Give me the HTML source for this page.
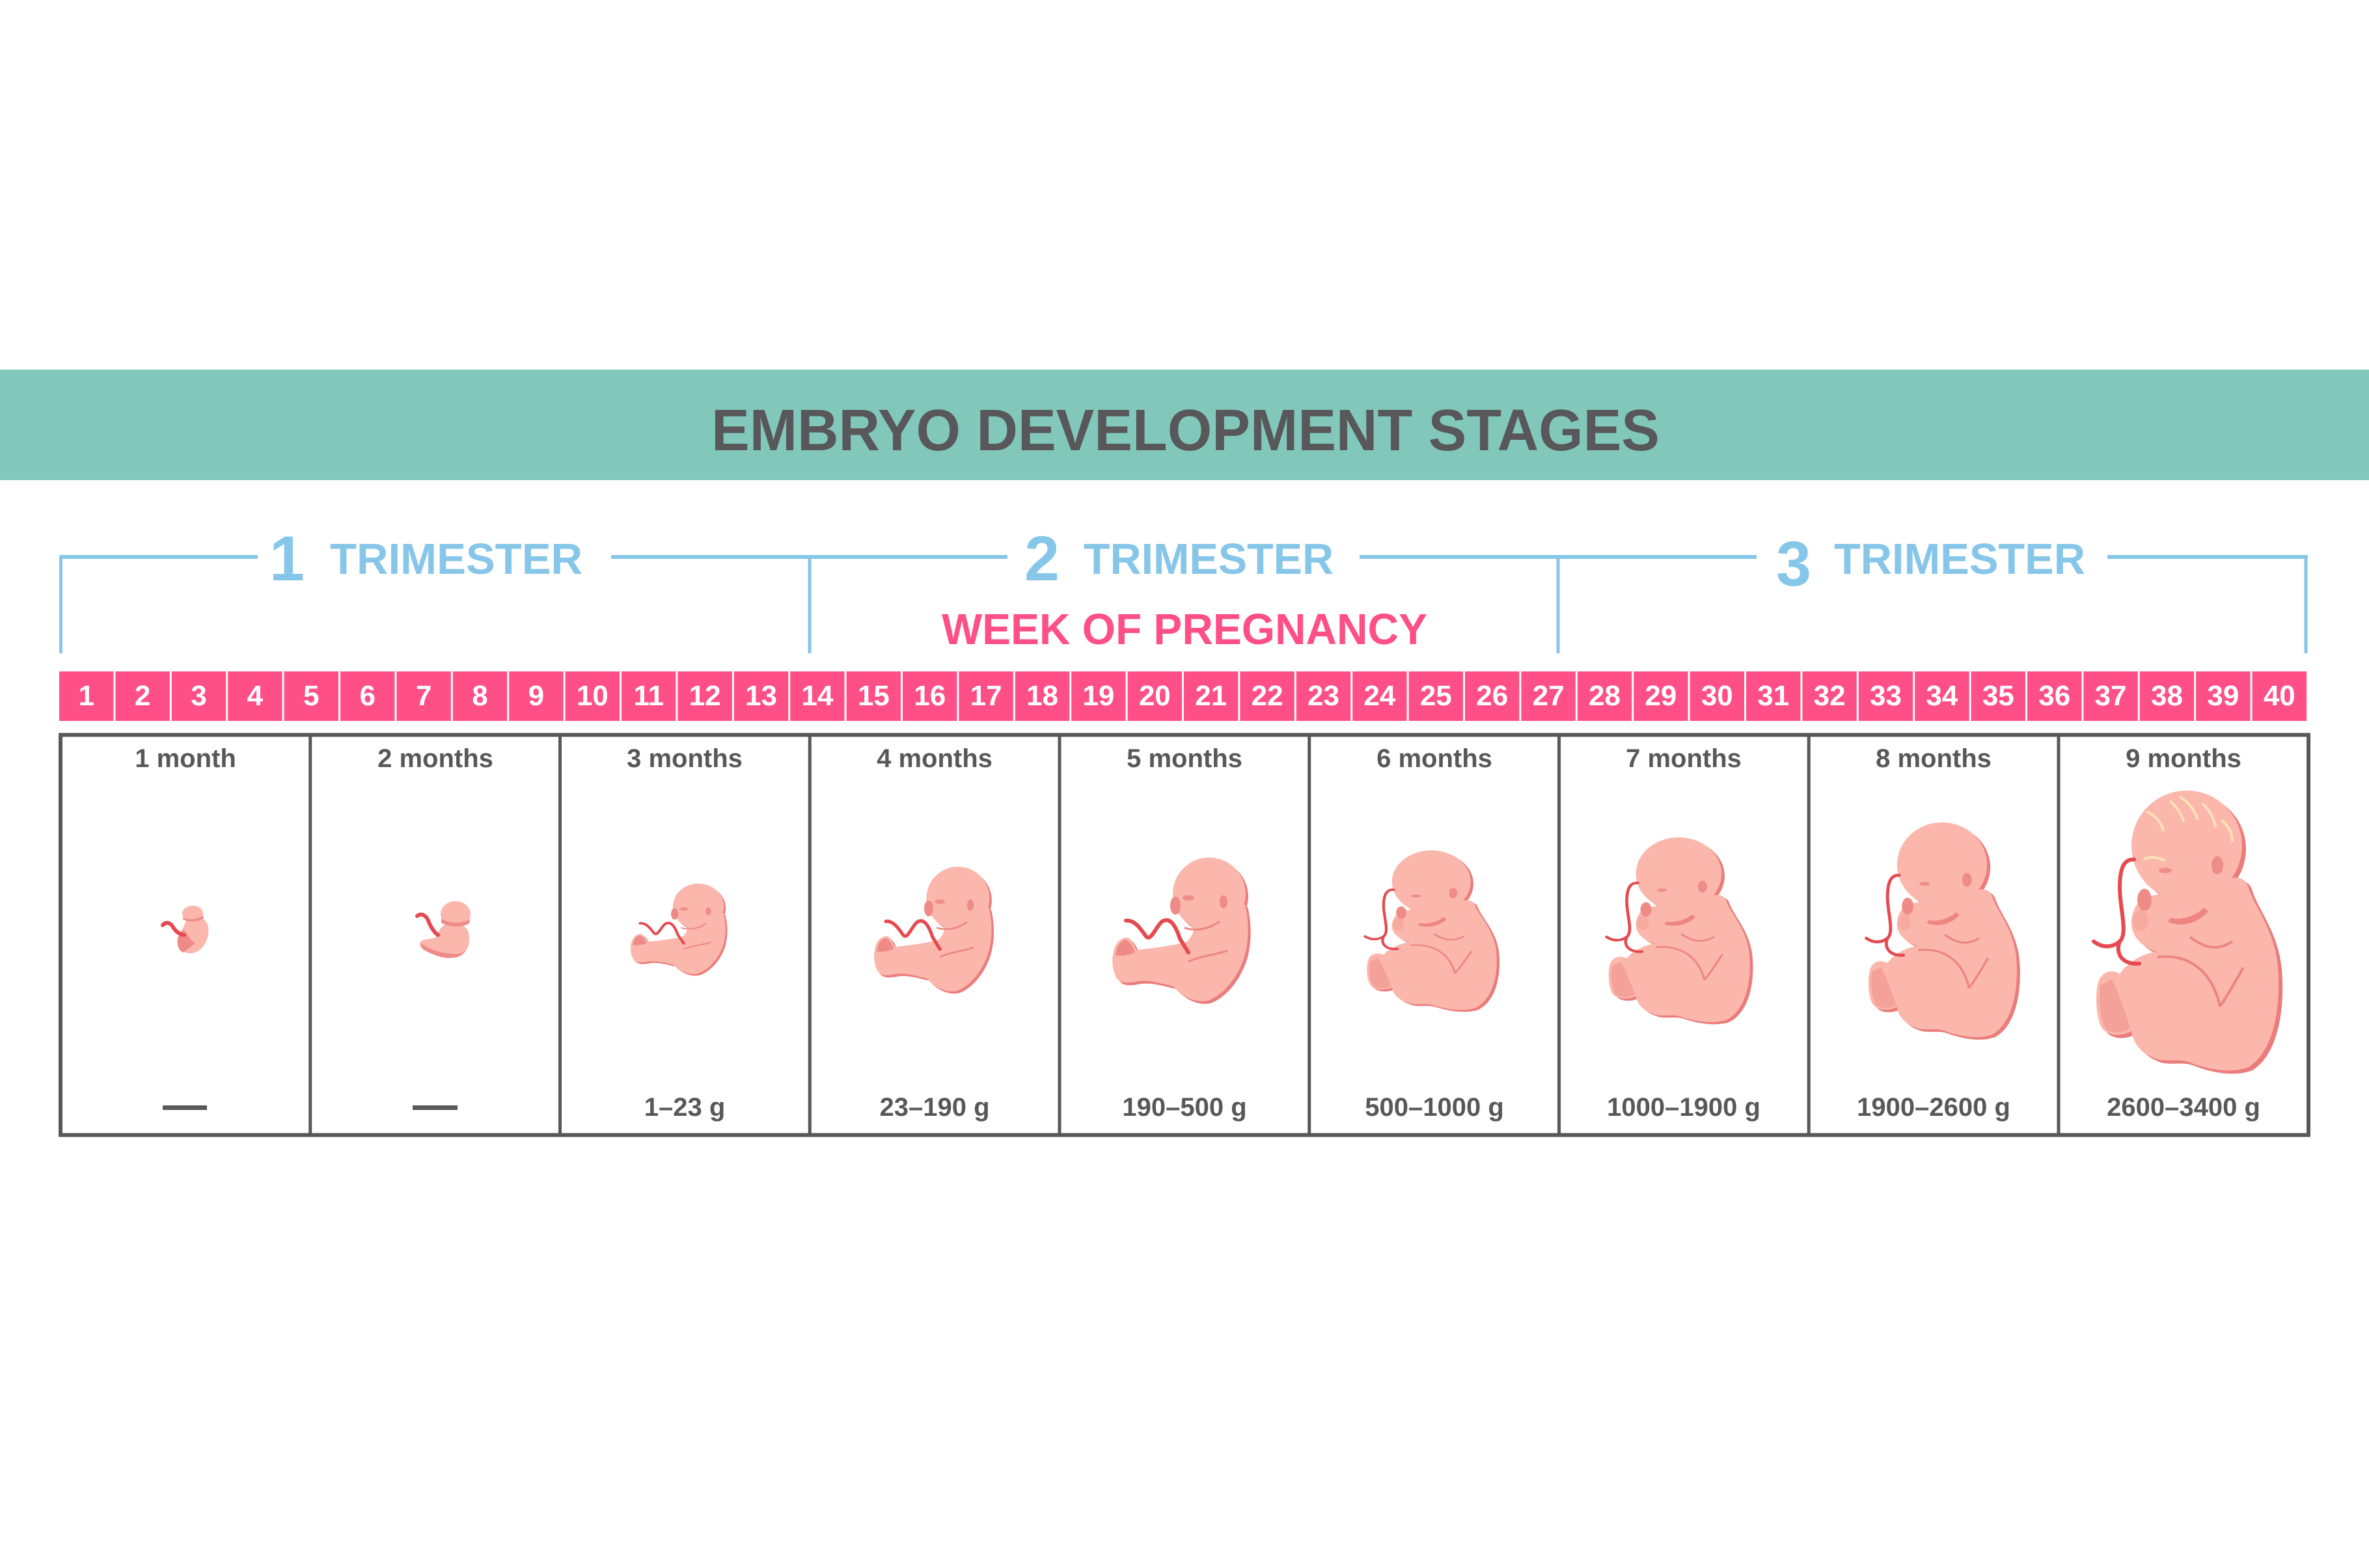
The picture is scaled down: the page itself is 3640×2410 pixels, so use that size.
<!DOCTYPE html>
<html>
<head>
<meta charset="utf-8">
<style>
html,body{margin:0;padding:0;background:#fff;}
svg{display:block;}
text{font-family:"Liberation Sans",sans-serif;}
</style>
</head>
<body>
<svg width="3640" height="2410" viewBox="0 0 3640 2410" xmlns="http://www.w3.org/2000/svg">
<defs>
  <!-- late-stage fetus template (285 x 430) -->
  <g id="tA">
    <g fill="#EB7C7B" transform="translate(6,5)">
      <ellipse cx="145" cy="85" rx="85" ry="85"/>
      <path d="M150,150 C200,140 232,120 240,150 C250,180 280,215 285,270 C290,330 280,400 240,425 C215,435 180,430 150,418 C130,410 110,420 92,410 C72,402 62,385 60,370 C40,380 18,376 12,360 C4,340 4,300 12,288 C20,276 32,276 42,282 C55,262 80,250 98,248 C75,240 58,222 60,200 C62,180 72,165 90,162 Z"/>
    </g>
    <g fill="#FBB7AB">
      <ellipse cx="145" cy="85" rx="85" ry="85"/>
      <path d="M150,150 C200,140 232,120 240,150 C250,180 280,215 285,270 C290,330 280,400 240,425 C215,435 180,430 150,418 C130,410 110,420 92,410 C72,402 62,385 60,370 C40,380 18,376 12,360 C4,340 4,300 12,288 C20,276 32,276 42,282 C55,262 80,250 98,248 C75,240 58,222 60,200 C62,180 72,165 90,162 Z"/>
    </g>
    <!-- far leg shade -->
    <path d="M12,300 C10,330 12,355 22,368 C35,375 50,372 58,365 C50,340 40,310 30,290 Z" fill="#F4A199"/>
    <!-- chin / neck shadow -->
    <path d="M120,196 C140,200 158,192 172,180 L178,186 C160,206 135,210 116,202 Z" fill="#EE8580"/>
    <!-- fist -->
    <ellipse cx="80" cy="168" rx="11" ry="17" fill="#EE8B86"/>
    <ellipse cx="74" cy="200" rx="12" ry="16" fill="#F7AAA0"/>
    <!-- ear -->
    <ellipse cx="192" cy="115" rx="9" ry="14" fill="#EE8C87"/>
    <!-- eye -->
    <ellipse cx="112" cy="123" rx="10" ry="4" fill="#EE8E89"/>
    <!-- creases -->
    <path d="M100,256 C150,250 185,280 196,332" fill="none" stroke="#EC8580" stroke-width="4"/>
    <path d="M150,225 C175,245 195,245 215,232" fill="none" stroke="#EC8580" stroke-width="4"/>
    <path d="M196,332 C210,312 220,292 232,272" fill="none" stroke="#EC8580" stroke-width="4"/>
    <!-- cord -->
    <path d="M2,232 C15,242 30,242 42,232 C55,220 42,180 42,150 C42,120 48,105 64,106" fill="none" stroke="#E64A50" stroke-width="6" stroke-linecap="round"/>
    <path d="M42,232 C35,250 45,268 72,266" fill="none" stroke="#E64A50" stroke-width="6" stroke-linecap="round"/>
  </g>
  <!-- mid-stage fetus template (209 x 220) -->
  <g id="tB">
    <g fill="#EB7C7B" transform="translate(4,4)">
      <ellipse cx="150" cy="56" rx="56" ry="56"/>
      <path d="M205,72 C212,100 212,140 198,168 C188,190 170,212 148,220 C130,224 110,215 95,198 C80,195 60,188 42,190 C30,192 18,195 10,188 C2,180 0,160 2,150 C4,135 10,125 22,123 C30,122 35,135 38,142 C60,140 90,136 115,130 C125,120 130,110 120,95 Z"/>
    </g>
    <g fill="#FBB7AB">
      <ellipse cx="150" cy="56" rx="56" ry="56"/>
      <path d="M205,72 C212,100 212,140 198,168 C188,190 170,212 148,220 C130,224 110,215 95,198 C80,195 60,188 42,190 C30,192 18,195 10,188 C2,180 0,160 2,150 C4,135 10,125 22,123 C30,122 35,135 38,142 C60,140 90,136 115,130 C125,120 130,110 120,95 Z"/>
    </g>
    <path d="M6,150 C8,135 14,128 22,126 C30,130 34,140 36,146 C25,150 15,152 6,150 Z" fill="#EE8B86"/>
    <ellipse cx="98" cy="74" rx="8" ry="14" fill="#EE8B86"/>
    <ellipse cx="172" cy="68" rx="6" ry="10" fill="#EE8C87"/>
    <ellipse cx="118" cy="62" rx="9" ry="4" fill="#EE8E89"/>
    <path d="M112,108 C130,114 150,110 166,98" fill="none" stroke="#EC8580" stroke-width="3"/>
    <path d="M118,160 C140,150 160,150 178,143" fill="none" stroke="#EC8580" stroke-width="3"/>
    <path d="M22,97 C35,95 45,110 52,120 C60,132 68,105 78,98 C92,90 100,110 105,125 L118,146" fill="none" stroke="#E64A50" stroke-width="6" stroke-linecap="round"/>
  </g>
</defs>

<!-- header band -->
<rect x="0" y="568" width="3640" height="170" fill="#82C8BA"/>
<text x="1093" y="692" font-size="90" font-weight="bold" fill="#58585A" textLength="1457" lengthAdjust="spacingAndGlyphs">EMBRYO DEVELOPMENT STAGES</text>

<!-- trimester brackets -->
<g stroke="#86C6E9" fill="none">
  <line x1="91" y1="856" x2="396" y2="856" stroke-width="6"/>
  <line x1="939" y1="856" x2="1548" y2="856" stroke-width="6"/>
  <line x1="2089" y1="856" x2="2699" y2="856" stroke-width="6"/>
  <line x1="3238" y1="856" x2="3546" y2="856" stroke-width="6"/>
  <line x1="93.5" y1="853" x2="93.5" y2="1004" stroke-width="5"/>
  <line x1="1244" y1="856" x2="1244" y2="1004" stroke-width="5"/>
  <line x1="2394" y1="856" x2="2394" y2="1004" stroke-width="5"/>
  <line x1="3543" y1="853" x2="3543" y2="1004" stroke-width="5"/>
</g>
<g fill="#86C6E9" font-weight="bold">
  <text x="441" y="892" font-size="97" text-anchor="middle">1</text>
  <text x="507" y="882" font-size="67" textLength="388" lengthAdjust="spacingAndGlyphs">TRIMESTER</text>
  <text x="1601" y="892" font-size="97" text-anchor="middle">2</text>
  <text x="1665" y="882" font-size="67" textLength="384" lengthAdjust="spacingAndGlyphs">TRIMESTER</text>
  <text x="2756" y="900" font-size="97" text-anchor="middle">3</text>
  <text x="2818" y="882" font-size="67" textLength="386" lengthAdjust="spacingAndGlyphs">TRIMESTER</text>
</g>
<text x="1447" y="990" font-size="67" font-weight="bold" fill="#FE4F86" textLength="746" lengthAdjust="spacingAndGlyphs">WEEK OF PREGNANCY</text>

<!-- week cells -->
<g fill="#FE4F86">
  <rect x="91.0" y="1032" width="83.4" height="76"/><rect x="177.4" y="1032" width="83.4" height="76"/><rect x="263.8" y="1032" width="83.4" height="76"/><rect x="350.2" y="1032" width="83.4" height="76"/><rect x="436.6" y="1032" width="83.4" height="76"/>
  <rect x="523.0" y="1032" width="83.4" height="76"/><rect x="609.4" y="1032" width="83.4" height="76"/><rect x="695.8" y="1032" width="83.4" height="76"/><rect x="782.2" y="1032" width="83.4" height="76"/><rect x="868.6" y="1032" width="83.4" height="76"/>
  <rect x="955.0" y="1032" width="83.4" height="76"/><rect x="1041.4" y="1032" width="83.4" height="76"/><rect x="1127.8" y="1032" width="83.4" height="76"/><rect x="1214.2" y="1032" width="83.4" height="76"/><rect x="1300.6" y="1032" width="83.4" height="76"/>
  <rect x="1387.0" y="1032" width="83.4" height="76"/><rect x="1473.4" y="1032" width="83.4" height="76"/><rect x="1559.8" y="1032" width="83.4" height="76"/><rect x="1646.2" y="1032" width="83.4" height="76"/><rect x="1732.6" y="1032" width="83.4" height="76"/>
  <rect x="1819.0" y="1032" width="83.4" height="76"/><rect x="1905.4" y="1032" width="83.4" height="76"/><rect x="1991.8" y="1032" width="83.4" height="76"/><rect x="2078.2" y="1032" width="83.4" height="76"/><rect x="2164.6" y="1032" width="83.4" height="76"/>
  <rect x="2251.0" y="1032" width="83.4" height="76"/><rect x="2337.4" y="1032" width="83.4" height="76"/><rect x="2423.8" y="1032" width="83.4" height="76"/><rect x="2510.2" y="1032" width="83.4" height="76"/><rect x="2596.6" y="1032" width="83.4" height="76"/>
  <rect x="2683.0" y="1032" width="83.4" height="76"/><rect x="2769.4" y="1032" width="83.4" height="76"/><rect x="2855.8" y="1032" width="83.4" height="76"/><rect x="2942.2" y="1032" width="83.4" height="76"/><rect x="3028.6" y="1032" width="83.4" height="76"/>
  <rect x="3115.0" y="1032" width="83.4" height="76"/><rect x="3201.4" y="1032" width="83.4" height="76"/><rect x="3287.8" y="1032" width="83.4" height="76"/><rect x="3374.2" y="1032" width="83.4" height="76"/><rect x="3460.6" y="1032" width="83.4" height="76"/>
</g>
<g fill="#FFFFFF" font-size="44" font-weight="bold" text-anchor="middle">
  <text x="132.7" y="1084">1</text><text x="219.1" y="1084">2</text><text x="305.5" y="1084">3</text><text x="391.9" y="1084">4</text><text x="478.3" y="1084">5</text>
  <text x="564.7" y="1084">6</text><text x="651.1" y="1084">7</text><text x="737.5" y="1084">8</text><text x="823.9" y="1084">9</text><text x="910.3" y="1084">10</text>
  <text x="996.7" y="1084">11</text><text x="1083.1" y="1084">12</text><text x="1169.5" y="1084">13</text><text x="1255.9" y="1084">14</text><text x="1342.3" y="1084">15</text>
  <text x="1428.7" y="1084">16</text><text x="1515.1" y="1084">17</text><text x="1601.5" y="1084">18</text><text x="1687.9" y="1084">19</text><text x="1774.3" y="1084">20</text>
  <text x="1860.7" y="1084">21</text><text x="1947.1" y="1084">22</text><text x="2033.5" y="1084">23</text><text x="2119.9" y="1084">24</text><text x="2206.3" y="1084">25</text>
  <text x="2292.7" y="1084">26</text><text x="2379.1" y="1084">27</text><text x="2465.5" y="1084">28</text><text x="2551.9" y="1084">29</text><text x="2638.3" y="1084">30</text>
  <text x="2724.7" y="1084">31</text><text x="2811.1" y="1084">32</text><text x="2897.5" y="1084">33</text><text x="2983.9" y="1084">34</text><text x="3070.3" y="1084">35</text>
  <text x="3156.7" y="1084">36</text><text x="3243.1" y="1084">37</text><text x="3329.5" y="1084">38</text><text x="3415.9" y="1084">39</text><text x="3502.3" y="1084">40</text>
</g>

<!-- month boxes -->
<rect x="93" y="1129.5" width="3454" height="615" fill="none" stroke="#58585A" stroke-width="6"/>
<g stroke="#58585A" stroke-width="5">
  <line x1="476.75" y1="1129" x2="476.75" y2="1745"/>
  <line x1="860.5" y1="1129" x2="860.5" y2="1745"/>
  <line x1="1244.25" y1="1129" x2="1244.25" y2="1745"/>
  <line x1="1628" y1="1129" x2="1628" y2="1745"/>
  <line x1="2011.75" y1="1129" x2="2011.75" y2="1745"/>
  <line x1="2395.5" y1="1129" x2="2395.5" y2="1745"/>
  <line x1="2779.25" y1="1129" x2="2779.25" y2="1745"/>
  <line x1="3163" y1="1129" x2="3163" y2="1745"/>
</g>
<g fill="#58585A" font-size="40" font-weight="bold" text-anchor="middle">
  <text x="285" y="1179">1 month</text>
  <text x="669" y="1179">2 months</text>
  <text x="1052" y="1179">3 months</text>
  <text x="1436" y="1179">4 months</text>
  <text x="1820" y="1179">5 months</text>
  <text x="2204" y="1179">6 months</text>
  <text x="2587" y="1179">7 months</text>
  <text x="2971" y="1179">8 months</text>
  <text x="3355" y="1179">9 months</text>
  <text x="1052" y="1715">1–23 g</text>
  <text x="1436" y="1715">23–190 g</text>
  <text x="1820" y="1715">190–500 g</text>
  <text x="2204" y="1715">500–1000 g</text>
  <text x="2587" y="1715">1000–1900 g</text>
  <text x="2971" y="1715">1900–2600 g</text>
  <text x="3355" y="1715">2600–3400 g</text>
</g>
<rect x="250" y="1699" width="68" height="7" fill="#58585A"/>
<rect x="634" y="1699" width="69" height="7" fill="#58585A"/>

<!-- fetus 1 -->
<g>
  <path d="M288,1410 C300,1405 318,1410 320,1425 C322,1440 315,1458 300,1464 C288,1468 275,1462 273,1450 C271,1440 278,1432 282,1425 Z" fill="#FBB7AB"/>
  <path d="M273,1450 C271,1440 278,1432 283,1430 C290,1440 296,1448 300,1450 C292,1455 285,1462 282,1464 C276,1462 273,1456 273,1450 Z" fill="#EE8B86"/>
  <ellipse cx="296" cy="1404" rx="16" ry="12" fill="#FBB7AB"/>
  <path d="M281,1410 C290,1415 305,1413 312,1407 L313,1411 C305,1417 290,1418 281,1413 Z" fill="#EE8B86"/>
  <path d="M250,1422 C255,1416 262,1418 266,1425 C270,1432 276,1436 283,1437" fill="none" stroke="#E64A50" stroke-width="6" stroke-linecap="round"/>
</g>
<!-- fetus 2 -->
<g>
  <path d="M685,1420 C700,1420 720,1418 721,1440 C722,1460 712,1470 695,1472 C680,1474 668,1468 655,1462 C645,1458 642,1450 648,1446 C655,1442 665,1444 670,1440 C673,1432 678,1424 685,1420 Z" fill="#FBB7AB"/>
  <path d="M648,1450 C660,1460 680,1466 700,1466 C712,1466 716,1462 718,1458 C712,1468 705,1472 695,1472 C680,1474 668,1468 655,1462 C649,1458 646,1454 648,1450 Z" fill="#EE8B86"/>
  <ellipse cx="700" cy="1405" rx="23" ry="20" fill="#FBB7AB"/>
  <path d="M678,1412 C690,1420 710,1420 722,1413 L721,1419 C710,1426 690,1426 678,1418 Z" fill="#EE8B86"/>
  <path d="M641,1408 C648,1402 655,1408 658,1415 C662,1425 667,1433 673,1437" fill="none" stroke="#E64A50" stroke-width="6" stroke-linecap="round"/>
</g>
<!-- fetuses 3-5 -->
<use href="#tB" transform="translate(968,1358) scale(0.70,0.63)"/>
<use href="#tB" transform="translate(1342,1332) scale(0.866,0.868)"/>
<use href="#tB" transform="translate(1708,1318)"/>
<!-- fetuses 6-9 -->
<use href="#tA" transform="translate(2096,1307) scale(0.712,0.570)"/>
<use href="#tA" transform="translate(2467,1287) scale(0.775,0.660)"/>
<use href="#tA" transform="translate(2866,1264) scale(0.814,0.767)"/>
<use href="#tA" transform="translate(3215,1215)"/>
<!-- hair on fetus 9 -->
<g fill="none" stroke="#FFE1B8" stroke-width="4" stroke-linecap="round">
  <path d="M3350,1225 C3362,1232 3372,1245 3376,1258"/>
  <path d="M3335,1232 C3345,1240 3352,1252 3355,1262"/>
  <path d="M3385,1236 C3395,1245 3402,1258 3404,1270"/>
  <path d="M3300,1248 C3312,1254 3320,1264 3324,1276"/>
  <path d="M3415,1262 C3425,1270 3430,1282 3430,1292"/>
  <path d="M3295,1320 C3305,1316 3318,1318 3325,1322"/>
</g>
</svg>
</body>
</html>
